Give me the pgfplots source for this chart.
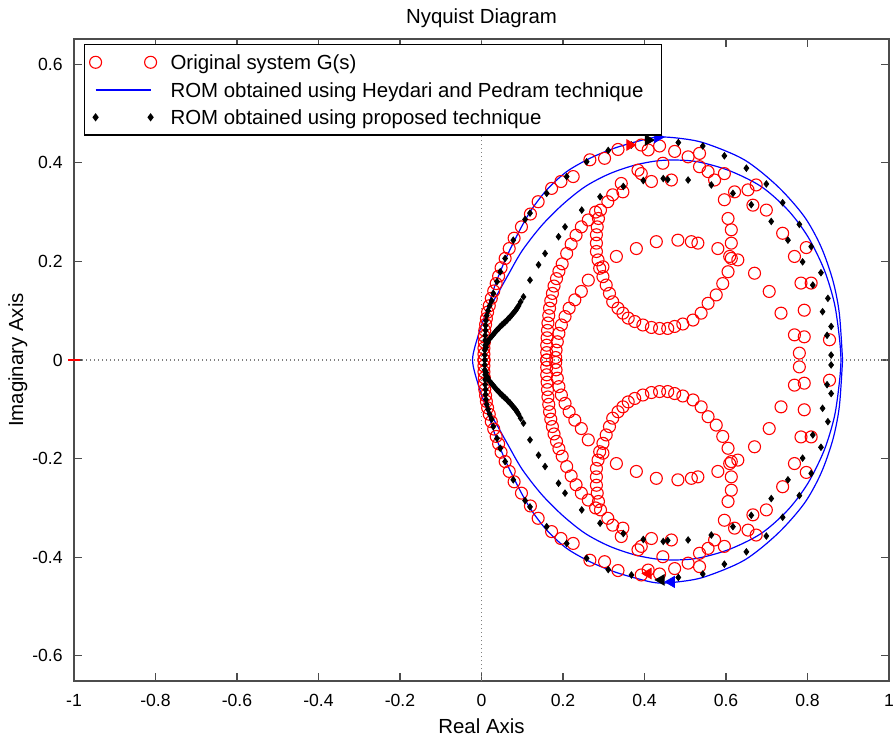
\documentclass[border=0pt]{standalone}
\usepackage{fontspec}
\setmainfont{Liberation Sans}
\usepackage{pgfplots}
\usepackage{pgfplotstable}
\pgfplotsset{compat=1.18}
\usetikzlibrary{calc}
\pgfplotsset{
  twomarks/.style={legend image code/.code={\draw[##1] plot[only marks] coordinates {(0bp,0bp) (27.5bp,0bp)};}},
}

% Original system G(s): upper half (lower half is its mirror image)
\pgfplotstableread{
x y
0.006 0.000
0.006 0.012
0.006 0.024
0.007 0.036
0.007 0.048
0.008 0.060
0.010 0.072
0.012 0.084
0.015 0.097
0.019 0.110
0.024 0.125
0.030 0.140
0.036 0.155
0.042 0.170
0.048 0.187
0.058 0.206
0.068 0.226
0.080 0.247
0.098 0.270
0.120 0.296
0.139 0.321
0.172 0.348
0.195 0.362
0.225 0.372
0.266 0.406
0.302 0.409
0.335 0.427
0.392 0.436
0.409 0.426
0.437 0.434
0.474 0.423
0.507 0.412
0.535 0.419
0.535 0.392
0.556 0.382
0.572 0.365
0.596 0.378
0.621 0.341
0.654 0.345
0.674 0.355
0.666 0.314
0.699 0.304
0.739 0.257
0.768 0.210
0.797 0.228
0.784 0.156
0.809 0.156
0.792 0.101
0.768 0.051
0.792 0.047
0.854 0.041
0.780 0.014
0.182 0.005
0.183 0.020
0.186 0.037
0.190 0.054
0.196 0.071
0.205 0.088
0.215 0.105
0.229 0.122
0.245 0.139
0.262 0.162
0.298 0.189
0.331 0.210
0.380 0.226
0.429 0.240
0.482 0.243
0.515 0.240
0.531 0.237
0.580 0.226
0.613 0.206
0.629 0.203
0.670 0.176
0.706 0.139
0.735 0.095
0.160 0.000
0.160 0.015
0.160 0.030
0.161 0.045
0.162 0.060
0.163 0.075
0.165 0.090
0.167 0.105
0.170 0.120
0.174 0.135
0.178 0.150
0.184 0.165
0.190 0.180
0.198 0.195
0.209 0.216
0.220 0.235
0.232 0.253
0.245 0.270
0.262 0.284
0.280 0.300
0.292 0.304
0.287 0.287
0.284 0.270
0.282 0.254
0.282 0.237
0.282 0.220
0.286 0.203
0.290 0.186
0.298 0.169
0.306 0.152
0.314 0.135
0.322 0.118
0.335 0.105
0.347 0.095
0.360 0.085
0.376 0.078
0.396 0.071
0.417 0.066
0.437 0.064
0.457 0.064
0.474 0.068
0.494 0.073
0.519 0.081
0.539 0.095
0.556 0.115
0.576 0.132
0.592 0.155
0.605 0.179
0.609 0.210
0.613 0.237
0.613 0.264
0.605 0.287
0.596 0.325
0.310 0.321
0.322 0.335
0.347 0.341
0.343 0.358
0.384 0.385
0.392 0.378
0.417 0.362
0.445 0.399
0.466 0.365
}\redup

% ROM obtained using proposed technique: upper half
\pgfplotstableread{
x y
0.008 0.000
0.008 0.010
0.008 0.020
0.009 0.030
0.009 0.040
0.009 0.050
0.010 0.060
0.010 0.070
0.011 0.080
0.013 0.090
0.016 0.100
0.020 0.110
0.025 0.120
0.029 0.135
0.038 0.159
0.046 0.179
0.058 0.206
0.078 0.243
0.107 0.285
0.119 0.298
0.160 0.338
0.209 0.372
0.258 0.402
0.311 0.425
0.368 0.436
0.483 0.441
0.543 0.434
0.596 0.414
0.650 0.389
0.699 0.357
0.739 0.319
0.780 0.275
0.809 0.230
0.833 0.177
0.850 0.125
0.858 0.068
0.858 0.010
0.011 0.025
0.015 0.035
0.020 0.043
0.025 0.048
0.029 0.052
0.033 0.056
0.037 0.060
0.042 0.064
0.046 0.068
0.050 0.071
0.054 0.074
0.058 0.077
0.062 0.080
0.066 0.084
0.070 0.087
0.074 0.091
0.078 0.095
0.082 0.099
0.085 0.102
0.088 0.106
0.091 0.110
0.096 0.118
0.103 0.128
0.119 0.162
0.140 0.193
0.156 0.216
0.189 0.250
0.205 0.270
0.246 0.304
0.291 0.331
0.348 0.352
0.397 0.364
0.446 0.368
0.457 0.366
0.507 0.365
0.564 0.355
0.617 0.338
0.662 0.315
0.711 0.281
0.752 0.243
0.788 0.199
0.813 0.152
0.837 0.098
0.848 0.050
}\blkup

\begin{document}
\begin{tikzpicture}
\begin{axis}[
  name=ax,
  scale only axis,
  width=407.5bp, height=321bp,
  xmin=-1, xmax=1, ymin=-0.651, ymax=0.651,
  xtick={-1,-0.8,-0.6,-0.4,-0.2,0,0.2,0.4,0.6,0.8,1},
  xticklabels={-1,-0.8,-0.6,-0.4,-0.2,0,0.2,0.4,0.6,0.8,1},
  ytick={-0.6,-0.4,-0.2,0,0.2,0.4,0.6},
  yticklabels={-0.6,-0.4,-0.2,0,0.2,0.4,0.6},
  tick align=inside,
  major tick length=4bp,
  axis line style={black!70, line width=0.6bp},
  every tick/.style={black!70, line width=0.6bp},
  xticklabel style={font=\fontsize{8.8bp}{10bp}\selectfont, inner sep=0pt, anchor=base, yshift=-12.5bp},
  yticklabel style={font=\fontsize{8.8bp}{10bp}\selectfont, inner sep=0pt, anchor=east, xshift=-5.5bp},
  title={Nyquist Diagram},
  every axis title/.style={at={(axis description cs:0.5,1)}, anchor=base, yshift=7.5bp, inner sep=0pt, font=\fontsize{10.2bp}{12bp}\selectfont},
  xlabel={Real Axis},
  ylabel={Imaginary Axis},
  every axis x label/.style={at={(axis description cs:0.5,0)}, anchor=base, yshift=-26bp, inner sep=0pt, font=\fontsize{10.2bp}{12bp}\selectfont},
  every axis y label/.style={at={(axis description cs:0,0.5)}, rotate=90, anchor=base, yshift=25.5bp, inner sep=0pt, font=\fontsize{10.2bp}{12bp}\selectfont},
  legend cell align=left,
  legend style={at={(0,1)}, anchor=north west, xshift=5bp, yshift=-2.5bp,
    line width=0.6bp, fill=white,
    inner xsep=2.5bp, inner ysep=2.7bp, column sep=7bp, row sep=1.45bp,
    font=\fontsize{10.2bp}{12bp}\selectfont,
    nodes={inner sep=0pt, text height=9.8bp, text depth=2.5bp, anchor=west}},
]
% zero lines
\addplot[gray, line width=0.6bp, dash pattern=on 0.6bp off 1.4bp, forget plot] coordinates {(0,-0.651) (0,0.651)};
\addplot[gray, line width=0.6bp, dash pattern=on 0.6bp off 1.4bp, forget plot] coordinates {(-1,0) (1,0)};

% Original system
\addplot[only marks, red, mark=o, mark size=3bp, mark options={line width=0.55bp}, twomarks]
  table[x=x, y=y] {\redup};
\addlegendentry{Original system G(s)}
\addplot[only marks, red, mark=o, mark size=3bp, mark options={line width=0.55bp}, forget plot]
  table[x=x, y expr=-\thisrow{y}] {\redup};

% Heydari and Pedram ROM
\addplot[color=blue, draw=blue, line width=0.6bp, smooth, tension=0.5, forget plot]
  coordinates {
  (0.886,0) (0.878,0.095) (0.862,0.162) (0.833,0.230) (0.792,0.291) (0.727,0.352)
  (0.645,0.406) (0.547,0.440) (0.482,0.450) (0.430,0.452) (0.381,0.443) (0.324,0.429)
  (0.266,0.409) (0.209,0.382) (0.160,0.345) (0.122,0.304) (0.093,0.262) (0.062,0.210)
  (0.036,0.158) (0.013,0.101) (-0.008,0.050) (-0.022,0)
  (-0.008,-0.050) (0.013,-0.101) (0.036,-0.158) (0.062,-0.210) (0.093,-0.262) (0.122,-0.304)
  (0.160,-0.345) (0.209,-0.382) (0.266,-0.409) (0.324,-0.429) (0.381,-0.443) (0.430,-0.452)
  (0.482,-0.450) (0.547,-0.440) (0.645,-0.406) (0.727,-0.352) (0.792,-0.291) (0.833,-0.230)
  (0.862,-0.162) (0.878,-0.095) (0.886,0)
  };
\addlegendimage{color=blue, draw=blue, line width=1bp, legend image code/.code={\draw[color=blue, draw=blue, line width=1bp] (0bp,0bp) -- (27.5bp,0bp);}}
\addlegendentry{ROM obtained using Heydari and Pedram technique\hspace*{6.5bp}}
\addplot[color=blue, draw=blue, line width=0.6bp, smooth, tension=0.5, forget plot]
  coordinates {
  (0.015,0.100) (0.040,0.135) (0.065,0.172) (0.100,0.222) (0.148,0.273) (0.200,0.316)
  (0.255,0.352) (0.315,0.378) (0.380,0.396) (0.446,0.405) (0.523,0.403) (0.605,0.385)
  (0.686,0.352) (0.752,0.304) (0.801,0.250) (0.841,0.183) (0.866,0.115) (0.878,0.047)
  (0.882,0)
  (0.878,-0.047) (0.866,-0.115) (0.841,-0.183) (0.801,-0.250) (0.752,-0.304) (0.686,-0.352)
  (0.605,-0.385) (0.523,-0.403) (0.446,-0.405) (0.380,-0.396) (0.315,-0.378) (0.255,-0.352)
  (0.200,-0.316) (0.148,-0.273) (0.100,-0.222) (0.065,-0.172) (0.040,-0.135) (0.015,-0.100)
  };

% proposed ROM
\addplot[only marks, black, mark=diamond*, mark size=1.6bp, twomarks]
  table[x=x, y=y] {\blkup};
\addlegendentry{ROM obtained using proposed technique}
\addplot[only marks, black, mark=diamond*, mark size=1.6bp, forget plot]
  table[x=x, y expr=-\thisrow{y}] {\blkup};

% direction arrows
\addplot[only marks, red, mark=triangle*, mark size=3bp, mark options={rotate=-90}, forget plot] coordinates {(0.364,0.436)};
\addplot[only marks, red, mark=triangle*, mark size=3bp, mark options={rotate=90}, forget plot] coordinates {(0.409,-0.433)};
\addplot[only marks, black, mark=triangle*, mark size=3bp, mark options={rotate=-90}, forget plot] coordinates {(0.409,0.446)};
\addplot[only marks, black, mark=triangle*, mark size=3bp, mark options={rotate=90}, forget plot] coordinates {(0.441,-0.446)};
\addplot[only marks, blue, mark=triangle*, mark size=3.2bp, mark options={rotate=-90}, forget plot] coordinates {(0.432,0.452)};
\addplot[only marks, blue, mark=triangle*, mark size=3.2bp, mark options={rotate=90}, forget plot] coordinates {(0.466,-0.450)};

% critical point
\addplot[only marks, red, mark=-, mark size=3bp, mark options={line width=0.7bp}, forget plot] coordinates {(-1,0)};
\end{axis}
\pgfresetboundingbox
\path[use as bounding box] ($(ax.south west)+(-37bp,-29.5bp)$) rectangle ($(ax.north east)+(3bp,19.5bp)$);
\end{tikzpicture}
\end{document}
